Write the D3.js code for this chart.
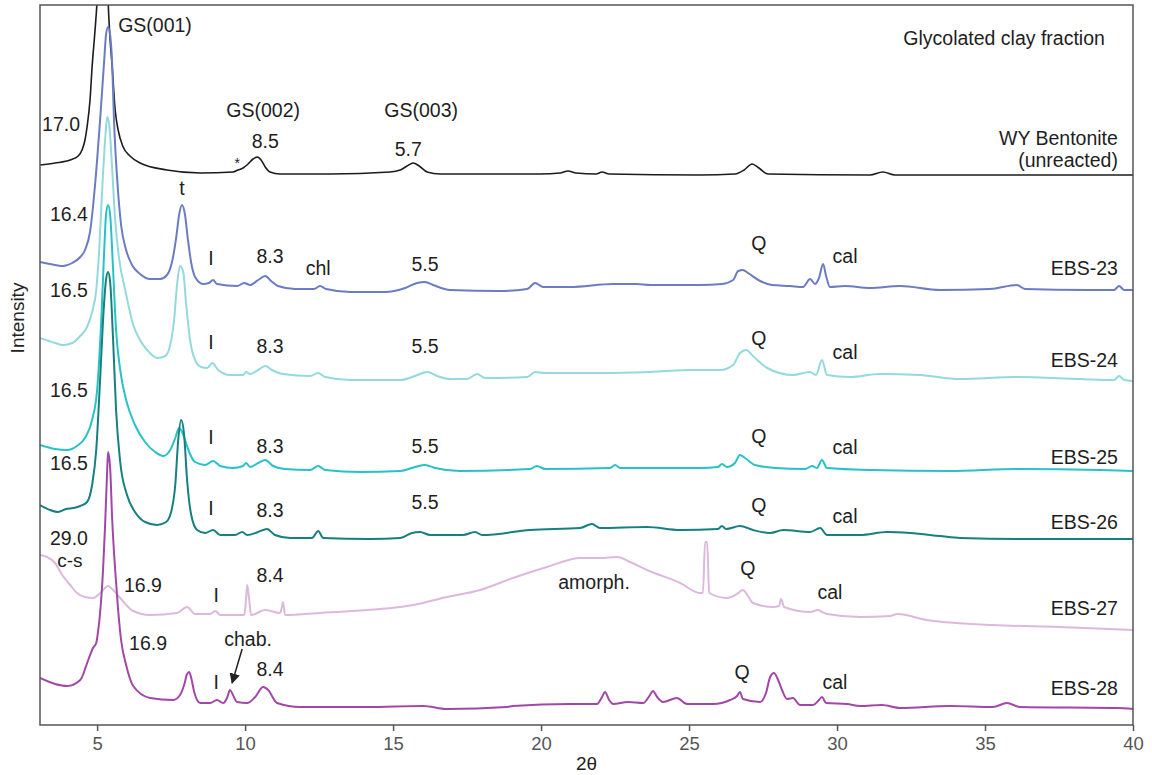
<!DOCTYPE html>
<html><head><meta charset="utf-8">
<script src="https://cdn.jsdelivr.net/npm/d3@7"></script>
<style>body{margin:0;background:#fff} svg{display:block} text{font-family:"Liberation Sans",Arial,sans-serif}</style>
</head><body><svg id="c" width="1152" height="775"></svg>
<script>
// 2θ (deg), relative intensity (stacked, arbitrary units)
const wyBentonite = [[3.07,560],[3.58,562],[4.09,565],[4.36,569],[4.49,575],[4.59,585],[4.66,598],[4.76,625],[4.83,658],[4.93,695],[5.00,725],[5.10,805],[5.20,845],[5.30,805],[5.37,725],[5.44,685],[5.51,658],[5.61,615],[5.71,595],[5.88,578],[6.11,569],[6.45,562],[7.36,555],[8.48,552],[9.59,553],[9.76,555],[9.93,557],[10.10,561],[10.27,566],[10.41,568],[10.54,565],[10.68,558],[10.84,553],[11.18,551],[12.87,551],[14.90,553],[15.24,555],[15.47,559],[15.68,562],[15.88,559],[16.15,553],[16.59,551],[19.97,551],[20.64,552],[20.91,554],[21.18,552],[21.86,551],[22.06,553],[22.30,551],[25.37,550],[26.55,551],[26.86,555],[27.13,561],[27.36,557],[27.67,551],[31.11,550],[31.55,553],[31.96,550],[35.51,550],[40.00,550]];
const ebs23 = [[3.07,463],[3.41,461],[3.85,459],[4.16,462],[4.43,468],[4.59,475],[4.76,493],[4.93,540],[5.10,605],[5.24,665],[5.30,690],[5.37,698],[5.44,690],[5.51,660],[5.57,605],[5.68,545],[5.81,500],[5.98,475],[6.18,460],[6.45,451],[6.79,446],[7.13,446],[7.36,450],[7.53,463],[7.67,487],[7.77,510],[7.87,520],[7.97,510],[8.07,485],[8.18,462],[8.31,448],[8.58,441],[8.78,442],[8.92,445],[9.05,441],[9.73,439],[9.97,442],[10.17,440],[10.44,445],[10.68,449],[10.88,444],[11.11,439],[11.69,436],[12.33,436],[12.53,439],[12.74,436],[13.55,433],[14.73,433],[15.41,437],[15.81,442],[16.08,443],[16.35,440],[16.93,435],[18.61,434],[19.53,436],[19.80,442],[20.07,438],[20.98,438],[22.43,441],[23.24,441],[23.68,440],[25.37,440],[26.11,441],[26.49,445],[26.66,454],[26.82,455],[26.99,452],[27.40,444],[27.80,440],[28.41,439],[28.85,438],[29.09,446],[29.26,441],[29.39,447],[29.53,461],[29.63,449],[29.76,438],[30.27,439],[31.11,437],[32.13,439],[33.48,435],[35.17,436],[36.08,440],[36.35,436],[38.45,435],[39.36,435],[39.53,439],[39.70,435],[40.00,435]];
const ebs24 = [[3.07,387],[3.58,382],[3.85,380],[4.16,382],[4.43,389],[4.66,398],[4.83,413],[4.97,435],[5.07,475],[5.17,535],[5.27,585],[5.34,608],[5.41,600],[5.51,555],[5.61,505],[5.74,467],[5.95,435],[6.22,400],[6.45,385],[6.69,375],[7.03,367],[7.30,369],[7.47,380],[7.60,405],[7.70,440],[7.80,459],[7.91,453],[8.01,420],[8.14,385],[8.31,365],[8.51,358],[8.72,357],[8.89,362],[9.09,355],[9.49,350],[9.93,350],[10.03,353],[10.17,351],[10.44,355],[10.68,359],[10.91,355],[11.28,351],[12.20,349],[12.47,352],[12.70,348],[13.55,345],[15.24,345],[15.74,349],[16.15,353],[16.49,349],[16.93,346],[17.50,346],[17.84,351],[18.11,347],[19.53,348],[19.80,353],[20.14,352],[21.99,352],[23.68,353],[25.14,355],[26.05,355],[26.49,360],[26.72,372],[26.93,375],[27.16,369],[27.64,357],[28.51,350],[29.09,353],[29.29,350],[29.49,365],[29.66,350],[30.44,348],[31.45,351],[32.80,350],[34.16,346],[36.08,348],[38.21,346],[39.36,345],[39.53,349],[39.70,345],[40.00,344]];
const ebs25 = [[3.07,280],[3.58,276],[3.99,275],[4.32,279],[4.59,287],[4.83,305],[5.00,335],[5.14,405],[5.24,475],[5.30,510],[5.37,520],[5.44,510],[5.54,455],[5.64,395],[5.78,355],[5.98,325],[6.28,300],[6.62,283],[6.96,273],[7.23,269],[7.47,275],[7.64,287],[7.77,297],[7.87,293],[7.97,285],[8.11,273],[8.31,263],[8.65,260],[8.92,264],[9.16,259],[9.59,257],[9.93,259],[10.03,262],[10.17,258],[10.44,262],[10.68,265],[10.95,259],[11.35,256],[12.20,255],[12.47,259],[12.70,255],[13.89,253],[15.24,254],[15.74,258],[16.08,260],[16.42,257],[17.26,254],[19.63,256],[19.86,259],[20.14,256],[22.33,257],[22.50,260],[22.67,257],[25.37,257],[25.98,258],[26.11,261],[26.28,258],[26.55,262],[26.72,270],[26.89,267],[27.23,260],[27.91,257],[28.92,256],[29.16,259],[29.32,257],[29.49,265],[29.66,257],[31.11,255],[33.82,254],[36.08,256],[38.89,255],[40.00,254]];
const ebs26 = [[3.07,220],[3.41,215],[3.68,213],[3.95,216],[4.19,217],[4.43,219],[4.66,223],[4.83,240],[4.97,275],[5.10,345],[5.20,405],[5.30,445],[5.37,453],[5.44,443],[5.54,385],[5.64,315],[5.78,263],[6.01,230],[6.28,213],[6.62,203],[7.03,200],[7.33,203],[7.50,213],[7.64,240],[7.74,285],[7.84,305],[7.94,290],[8.04,245],[8.18,210],[8.38,195],[8.65,192],[8.92,195],[9.16,190],[9.66,190],[9.90,193],[10.07,190],[10.44,193],[10.74,196],[11.01,190],[11.52,187],[12.26,187],[12.47,194],[12.64,187],[14.22,186],[15.24,187],[15.64,192],[15.91,193],[16.25,190],[17.36,190],[17.77,193],[18.01,190],[19.63,195],[21.32,197],[21.72,201],[21.99,197],[23.58,198],[24.70,195],[25.98,196],[26.11,199],[26.25,196],[26.72,199],[27.16,195],[27.74,192],[28.18,195],[29.09,193],[29.43,197],[29.66,190],[30.78,190],[31.69,193],[32.47,192],[33.48,189],[34.16,187],[36.42,186],[40.00,186]];
const ebs27 = [[3.07,170],[3.31,168],[3.58,162],[3.82,150],[4.09,140],[4.32,132],[4.59,128],[4.86,127],[5.14,133],[5.37,139],[5.54,135],[5.78,127],[6.22,114],[6.79,110],[7.70,112],[8.04,118],[8.31,111],[8.82,111],[8.99,114],[9.16,110],[9.97,110],[10.03,125],[10.07,140],[10.14,125],[10.20,110],[10.68,115],[11.18,112],[11.25,119],[11.28,123],[11.35,110],[12.53,112],[14.12,115],[15.24,118],[15.68,120],[16.82,128],[17.94,135],[19.05,147],[20.20,158],[21.32,167],[21.99,167],[22.57,168],[23.01,163],[23.58,155],[24.70,142],[25.37,132],[25.47,132],[25.54,183],[25.61,183],[25.68,132],[26.28,127],[26.62,131],[26.82,135],[26.99,129],[27.16,122],[27.84,118],[28.04,119],[28.11,126],[28.21,118],[29.09,113],[29.36,115],[29.49,113],[29.66,111],[30.78,108],[31.79,109],[32.03,111],[33.04,105],[35.27,100],[37.53,98],[40.00,95]];
const ebs28 = [[3.07,47],[3.58,41],[3.99,39],[4.43,45],[4.70,65],[4.86,77],[4.97,82],[5.03,93],[5.10,112],[5.20,155],[5.27,200],[5.34,255],[5.37,273],[5.44,257],[5.51,205],[5.61,155],[5.71,115],[5.81,85],[5.98,60],[6.22,39],[6.79,27],[7.57,25],[7.80,30],[7.94,40],[8.04,51],[8.11,53],[8.18,47],[8.28,33],[8.48,22],[8.82,22],[9.05,25],[9.26,22],[9.39,27],[9.49,35],[9.59,30],[9.73,23],[10.07,22],[10.34,28],[10.61,38],[10.78,35],[11.08,22],[11.86,18],[12.64,18],[14.12,18],[16.01,19],[16.82,16],[18.85,18],[19.05,19],[20.98,21],[21.89,21],[22.06,28],[22.16,33],[22.30,25],[22.43,21],[22.94,23],[23.45,22],[23.68,30],[23.78,34],[23.92,28],[24.12,23],[24.59,27],[24.93,21],[25.81,21],[26.39,25],[26.62,29],[26.72,33],[26.82,26],[27.40,23],[27.60,32],[27.74,48],[27.87,52],[28.01,45],[28.14,35],[28.31,26],[28.51,27],[28.75,20],[29.19,20],[29.36,24],[29.49,28],[29.63,22],[30.34,21],[30.78,19],[31.52,20],[32.13,17],[33.82,19],[35.27,18],[35.74,22],[36.18,18],[39.46,17],[40.00,16]];

const seriesNames = ["WY Bentonite","EBS-23","EBS-24","EBS-25","EBS-26","EBS-27","EBS-28"];
const seriesData = [wyBentonite, ebs23, ebs24, ebs25, ebs26, ebs27, ebs28];
const seriesColors = ["#1c1c1c","#6b7cc4","#93d9dd","#27c2c6","#167f80","#dcb9dc","#a247a8"];
const xTicks = [5,10,15,20,25,30,35,40];

// annotation text, 2θ, intensity, anchor
const annText = ["GS(001)","17.0","GS(002)","8.5","*","GS(003)","5.7","Glycolated clay fraction","WY Bentonite","(unreacted)",
 "t","16.4","I","8.3","chl","5.5","Q","cal","EBS-23",
 "16.5","I","8.3","5.5","Q","cal","EBS-24",
 "16.5","I","8.3","5.5","Q","cal","EBS-25",
 "16.5","I","8.3","5.5","Q","cal","EBS-26",
 "29.0","c-s","16.9","I","8.4","amorph.","Q","cal","EBS-27",
 "16.9","chab.","I","8.4","Q","cal","EBS-28"];
const annTheta = [5.71,3.78,10.61,10.68,9.73,15.95,15.51,39.05,39.49,39.49,
 7.87,4.05,8.85,10.84,12.47,16.08,27.36,30.27,39.49,
 4.05,8.85,10.84,16.08,27.36,30.27,39.49,
 4.05,8.85,10.84,16.08,27.36,30.27,39.49,
 4.05,8.85,10.84,16.08,27.36,30.27,39.49,
 4.05,4.08,6.55,9.02,10.84,21.79,26.99,29.76,39.49,
 6.72,10.10,9.02,10.84,26.79,29.93,39.49];
const annInt = [700,601,615,584,562,615,576,687,587,565,
 537,511,467,469,457,461,482,469,457,
 435,383,379,379,387,373,365,
 335,288,279,279,289,278,268,
 262,217,215,223,220,209,203,
 187,165,140,130,150,143,157,133,117,
 82,86,43,56,53,43,37];
const annAnchor = ["start","middle","middle","middle","middle","middle","middle","end","end","end",
 "middle","middle","middle","middle","middle","middle","middle","middle","end",
 "middle","middle","middle","middle","middle","middle","end",
 "middle","middle","middle","middle","middle","middle","end",
 "middle","middle","middle","middle","middle","middle","end",
 "middle","middle","middle","middle","middle","middle","middle","middle","end",
 "middle","middle","middle","middle","middle","middle","end"];
const arrowFrom = [9.90,76], arrowTo = [9.56,42];

const m = {l:40, r:1133, t:5, b:725};
const svg = d3.select("#c");
const x = d3.scaleLinear().domain([3.07,40]).range([m.l,m.r]);
const y = d3.scaleLinear().domain([0,720]).range([m.b,m.t]);

svg.append("defs").append("clipPath").attr("id","clip")
  .append("rect").attr("x",m.l).attr("y",m.t).attr("width",m.r-m.l).attr("height",m.b-m.t);

const line = d3.line().x(d=>x(d[0])).y(d=>y(d[1])).curve(d3.curveMonotoneX);
const g = svg.append("g").attr("clip-path","url(#clip)");
seriesData.forEach((s,i)=>{
  g.append("path").attr("d",line(s)).attr("fill","none")
   .attr("stroke",seriesColors[i]).attr("stroke-width", i===0?1.6:2)
   .attr("stroke-linejoin","round");
});

// frame
svg.append("rect").attr("x",m.l).attr("y",m.t).attr("width",m.r-m.l).attr("height",m.b-m.t)
  .attr("fill","none").attr("stroke","#555").attr("stroke-width",1.5);

const xAxis = d3.axisBottom(x).tickValues(xTicks).tickSize(6).tickPadding(6).tickFormat(d3.format("d"));
const ax = svg.append("g").attr("transform",`translate(0,${m.b})`).call(xAxis);
ax.select(".domain").remove();
ax.selectAll(".tick line").attr("stroke","#555").attr("stroke-width",1.5);
ax.selectAll(".tick text").attr("fill","#555").style("font-size","18.5px").style("font-family","'Liberation Sans',Arial,sans-serif");

svg.append("text").attr("x",(m.l+m.r)/2).attr("y",770).attr("text-anchor","middle")
  .style("font-size","19px").attr("fill","#222").text("2θ");
svg.append("text").attr("transform",`translate(24,${318}) rotate(-90)`).attr("text-anchor","middle")
  .style("font-size","19px").attr("fill","#222").text("Intensity");

const ann = svg.append("g");
annText.forEach((t,i)=>{
  const fs = t==="*" ? "14px" : (t==="c-s" ? "19px" : "19.5px");
  ann.append("text").attr("x",x(annTheta[i])).attr("y",y(annInt[i]))
    .attr("text-anchor",annAnchor[i]).attr("dominant-baseline","central")
    .style("font-size", fs).attr("fill","#1e1e1e").text(t);
});

// arrow for chab.
const defs = svg.select("defs");
defs.append("marker").attr("id","ah").attr("viewBox","0 0 10 10").attr("refX",9).attr("refY",5)
  .attr("markerWidth",7).attr("markerHeight",7).attr("orient","auto")
  .append("path").attr("d","M0,0 L10,5 L0,10 z").attr("fill","#222");
svg.append("line").attr("x1",x(arrowFrom[0])).attr("y1",y(arrowFrom[1]))
  .attr("x2",x(arrowTo[0])).attr("y2",y(arrowTo[1]))
  .attr("stroke","#222").attr("stroke-width",1.5).attr("marker-end","url(#ah)");
</script></body></html>
